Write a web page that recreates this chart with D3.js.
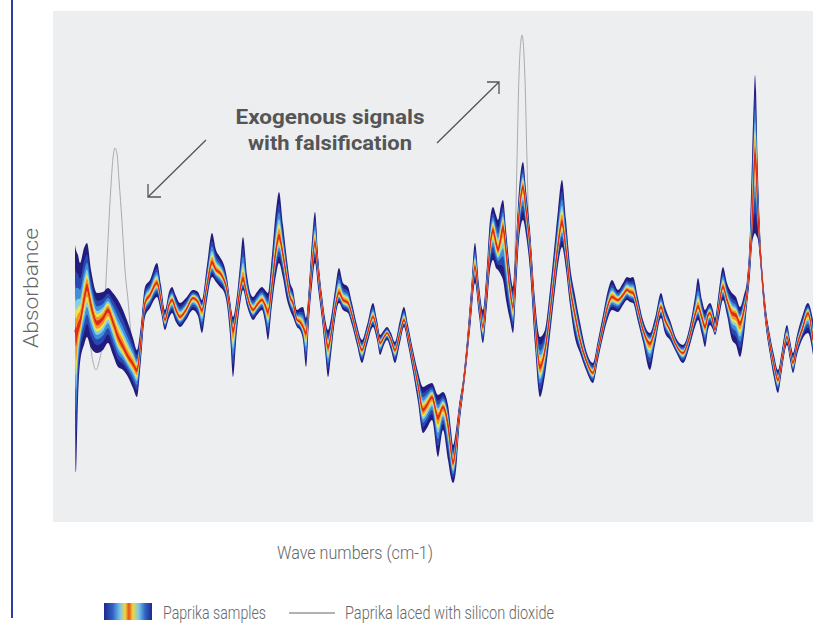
<!DOCTYPE html>
<html>
<head>
<meta charset="utf-8">
<script src="https://cdn.jsdelivr.net/npm/d3@7"></script>
<style>
  body { margin: 0; background: #fff; }
  svg { display: block; font-family: Roboto, "Liberation Sans", Arial, sans-serif; }
  .axis-label { fill: #666; font-weight: 300; font-size: 18px; }
  .legend-label { fill: #666; font-weight: 300; font-size: 18px; }
  .note { fill: #555; font-weight: 700; font-size: 21px; }
</style>
</head>
<body>
<svg width="813" height="623"></svg>
<script>
// wave numbers (cm-1) of the sampled points
var waveNumbers = [1738,1737,1735,1733,1729,1726,1722,1716,1710,1705,1700,1695,1690,1685,1680,1676,1672,1668,1663,1656,
  1652,1648,1644,1641,1637,1633,1627,1620,1615,1611,1606,1601,1597,1593,1589,1586,1583,1580,1576,1573,
  1570,1566,1563,1560,1556,1551,1548,1545,1541,1537,1534,1530,1526,1523,1520,1516,1513,1510,1507,1504,
  1501,1498,1495,1491,1488,1485,1482,1478,1474,1470,1465,1461,1456,1451,1446,1440,1436,1433,1429,1426,
  1422,1418,1413,1409,1405,1400,1395,1390,1386,1381,1375,1370,1365,1362,1360,1357,1354,1350,1346,1342,
  1338,1334,1330,1326,1323,1320,1317,1315,1312,1310,1307,1303,1300,1297,1294,1290,1287,1283,1278,1273,
  1268,1263,1258,1255,1251,1247,1243,1238,1233,1227,1220,1215,1210,1205,1201,1195,1190,1186,1183,1180,
  1175,1170,1163,1158,1152,1148,1143,1137,1130,1123,1118,1115,1111,1108,1105,1103,1100,1098,1094,1090,
  1086,1081,1077,1073,1069,1066,1063,1061,1059,1058,1057,1055,1053,1048,1043,1039,1035,1031,1026,1023,
  1020,1016,1011,1005,1000];

// paprika samples: median absorbance (x1000), and max / min of all samples
var sampleMedian = [192,187,194,199,222,235,217,199,204,212,200,185,175,165,158,152,182,219,227,239,
  222,202,217,222,212,205,212,224,220,212,237,259,252,249,242,232,212,192,212,232,
  242,227,217,212,217,222,217,210,237,272,285,267,242,225,219,202,200,195,189,222,
  257,279,252,215,192,175,187,214,229,222,219,207,187,172,187,205,192,179,185,189,
  182,172,189,202,187,162,137,112,117,125,105,115,97,72,59,77,107,135,172,217,
  255,222,195,237,275,292,279,272,285,295,272,232,215,262,307,335,312,275,202,155,
  172,209,252,277,299,272,235,207,182,162,149,172,195,217,225,222,227,232,230,229,
  212,192,179,192,215,202,192,177,169,187,207,215,204,195,207,209,200,192,217,235,
  222,209,207,199,212,229,267,295,352,369,357,307,275,212,177,157,142,162,185,172,
  159,177,192,209,182];
var sampleMax = [277,272,267,259,274,279,252,229,230,234,229,222,212,199,184,172,197,235,242,259,
  237,212,230,235,226,219,224,232,230,222,257,289,272,265,257,244,222,205,227,257,
  285,247,230,225,230,235,232,229,267,312,330,297,262,240,232,212,214,215,204,237,
  282,310,267,227,204,192,204,232,254,239,235,219,197,182,197,219,202,187,192,195,
  189,180,202,215,197,172,150,135,137,139,127,130,117,92,77,92,117,142,182,232,
  279,237,212,257,302,315,307,302,317,322,292,252,235,282,332,360,332,292,222,185,
  192,232,282,312,342,302,257,227,200,172,159,182,207,232,242,232,239,245,244,245,
  224,202,189,204,229,215,202,184,177,197,225,244,222,212,217,219,212,204,232,255,
  239,229,225,215,227,242,292,362,427,447,432,347,292,222,187,167,152,172,197,182,
  169,187,205,219,202];
var sampleMin = [162,50,122,159,177,185,174,169,172,179,167,155,152,145,134,125,162,205,214,225,
  210,192,204,209,200,195,202,212,206,189,222,245,240,235,230,217,187,145,192,217,
  232,216,207,202,207,212,200,182,217,247,259,244,222,212,205,195,192,182,155,202,
  237,259,234,202,172,145,167,202,219,212,209,197,177,159,177,195,182,167,177,182,
  172,159,179,195,177,150,120,89,94,102,65,92,62,44,39,52,92,127,162,202,
  239,207,179,217,252,262,254,252,247,242,222,202,189,232,282,302,287,252,177,125,
  147,187,232,257,275,252,217,184,169,152,139,162,185,204,212,210,217,222,220,219,
  200,180,152,177,204,189,182,170,159,177,195,202,187,175,192,197,192,187,204,222,
  207,182,177,165,187,217,247,277,287,289,287,282,262,202,167,144,129,152,177,162,
  149,167,182,189,167];

// paprika laced with silicon dioxide: the points where it leaves the median
var lacedWave = [1738,1733,1728,1724,1720,1717,1714,1711,1708,1705,1702,1700,1698,1696,1694,1691,1688,1685,1681,1677,1672,
  1303,1300,1298,1296,1294,1292,1291,1290,1288,1286,1284,1281,1278];
var lacedValue = [192,197,207,187,160,152,160,177,222,282,337,364,374,368,342,300,252,222,177,154,182,
  232,217,272,362,447,482,487,482,442,362,282,232,202];

var noteLines = ["Exogenous signals", "with falsification"];
var legendLabels = ["Paprika samples", "Paprika laced with silicon dioxide"];

var svg = d3.select("svg"),
    margin = {top: 11, right: 0, bottom: 101, left: 53},
    width = +svg.attr("width") - margin.left - margin.right,
    height = +svg.attr("height") - margin.top - margin.bottom;

var x = d3.scaleLinear().domain([1760, 1000]).range([margin.left, margin.left + width]);
var y = d3.scaleLinear().domain([0, 511]).range([margin.top + height, margin.top]);

var samples = waveNumbers.map(function(w, i) {
  return {wn: w, mid: sampleMedian[i], hi: sampleMax[i], lo: sampleMin[i]};
});

// laced curve: follows the median except inside the measured peaks
var peakRanges = [[d3.min(lacedWave.slice(0, 21)), d3.max(lacedWave.slice(0, 21))],
                  [d3.min(lacedWave.slice(21)), d3.max(lacedWave.slice(21))]];
var laced = samples.filter(function(d) {
  return !peakRanges.some(function(r) { return d.wn >= r[0] && d.wn <= r[1]; });
}).map(function(d) { return {wn: d.wn, v: d.mid}; });
lacedWave.forEach(function(w, i) { laced.push({wn: w, v: lacedValue[i]}); });
laced.sort(function(a, b) { return b.wn - a.wn; });

// side vertical rule
svg.append("line")
    .attr("x1", 12).attr("x2", 12)
    .attr("y1", 0).attr("y2", 618)
    .attr("stroke", "#2c3f9e")
    .attr("stroke-width", 2);

svg.append("rect")
    .attr("x", margin.left).attr("y", margin.top)
    .attr("width", width).attr("height", height)
    .attr("fill", "#eceef0");

var plot = svg.append("g");

plot.append("path")
    .datum(laced)
    .attr("fill", "none")
    .attr("stroke", "#a9abae")
    .attr("stroke-width", 1)
    .attr("d", d3.line()
        .curve(d3.curveMonotoneX)
        .x(function(d) { return x(d.wn); })
        .y(function(d) { return y(d.v); }));

// density band, outer to inner
var bands = [
  {f: 1.00, color: "#221c7e"},
  {f: 0.74, color: "#2a48b2"},
  {f: 0.55, color: "#3f8fd8"},
  {f: 0.40, color: "#86cfe6"},
  {f: 0.29, color: "#ece44c"},
  {f: 0.19, color: "#f49425"},
  {f: 0.08, color: "#df2f1c"}
];

bands.forEach(function(b) {
  plot.append("path")
      .datum(samples)
      .attr("fill", b.color)
      .attr("d", d3.area()
          .curve(d3.curveMonotoneX)
          .x(function(d) { return x(d.wn); })
          .y0(function(d) { var yc = y(d.mid); return yc + b.f * Math.max(y(d.lo) - yc, 3); })
          .y1(function(d) { var yc = y(d.mid); return yc - b.f * Math.max(yc - y(d.hi), 3); }));
});

plot.append("path")
    .datum(samples)
    .attr("fill", "none")
    .attr("stroke", "#dc2a18")
    .attr("stroke-width", 1.2)
    .attr("d", d3.line()
        .curve(d3.curveMonotoneX)
        .x(function(d) { return x(d.wn); })
        .y(function(d) { return y(d.mid); }));

// annotation
var note = svg.append("g");
note.selectAll("text")
    .data(noteLines)
    .enter().append("text")
      .attr("class", "note")
      .attr("x", 330)
      .attr("y", function(d, i) { return 124 + i * 26; })
      .attr("text-anchor", "middle")
      .attr("textLength", function(d, i) { return i ? 164 : 189; })
      .attr("lengthAdjust", "spacingAndGlyphs")
      .text(function(d) { return d; });

function arrow(x1, y1, x2, y2, dx, dy) {
  note.append("path")
      .attr("d", "M" + x1 + "," + y1 + "L" + x2 + "," + y2 +
                 "M" + (x2 + dx) + "," + y2 + "L" + x2 + "," + y2 + "L" + x2 + "," + (y2 + dy))
      .attr("fill", "none")
      .attr("stroke", "#555")
      .attr("stroke-width", 1.3);
}
arrow(206, 140, 148, 197, 13, -13);
arrow(437, 143, 499, 82, -12, 12);

// axis titles
svg.append("text")
    .attr("class", "axis-label")
    .attr("transform", "translate(38,288) rotate(-90)")
    .attr("text-anchor", "middle")
    .style("font-size", "21px")
    .attr("textLength", 120)
    .attr("lengthAdjust", "spacingAndGlyphs")
    .text("Absorbance");

svg.append("text")
    .attr("class", "axis-label")
    .attr("x", 355)
    .attr("y", 559)
    .attr("text-anchor", "middle")
    .attr("textLength", 156)
    .attr("lengthAdjust", "spacingAndGlyphs")
    .text("Wave numbers (cm-1)");

// legend
var grad = svg.append("defs").append("linearGradient")
    .attr("id", "bandGrad");
[["0%", "#1e2a8c"], ["18%", "#2f62c4"], ["34%", "#7cc8e8"], ["44%", "#f0d83c"],
 ["52%", "#e8501a"], ["60%", "#f0d83c"], ["72%", "#7cc8e8"], ["86%", "#2f62c4"], ["100%", "#1e2a8c"]]
  .forEach(function(s) {
    grad.append("stop").attr("offset", s[0]).attr("stop-color", s[1]);
  });

svg.append("rect")
    .attr("x", 104).attr("y", 603)
    .attr("width", 48).attr("height", 17)
    .attr("fill", "url(#bandGrad)");

svg.append("text")
    .attr("class", "legend-label")
    .attr("x", 163).attr("y", 619)
    .attr("textLength", 103)
    .attr("lengthAdjust", "spacingAndGlyphs")
    .text(legendLabels[0]);

svg.append("line")
    .attr("x1", 289).attr("x2", 335)
    .attr("y1", 613).attr("y2", 613)
    .attr("stroke", "#666")
    .attr("stroke-width", 1.2);

svg.append("text")
    .attr("class", "legend-label")
    .attr("x", 345).attr("y", 619)
    .attr("textLength", 209)
    .attr("lengthAdjust", "spacingAndGlyphs")
    .text(legendLabels[1]);
</script>
</body>
</html>
